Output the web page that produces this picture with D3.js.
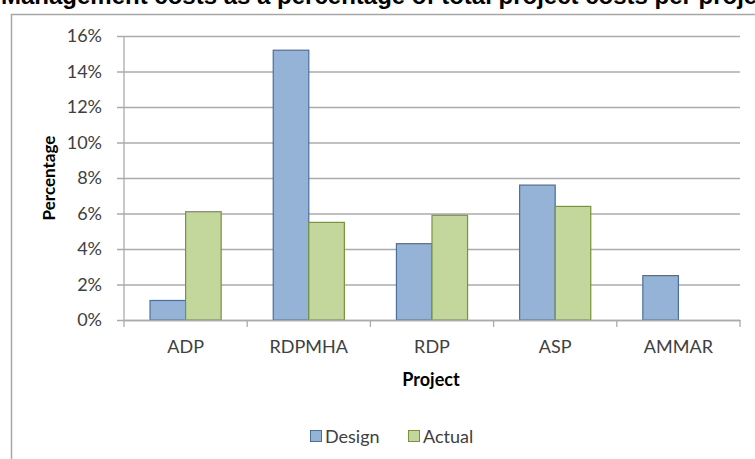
<!DOCTYPE html>
<html>
<head>
<meta charset="utf-8">
<script src="https://cdn.jsdelivr.net/npm/d3@7"></script>
<style>
  body { margin: 0; background: #fff; overflow: hidden; }
  svg { display: block; }
</style>
</head>
<body>
<svg id="chart" width="755" height="459"></svg>
<script>
// chart data
const projects = ["ADP", "RDPMHA", "RDP", "ASP", "AMMAR"];
const seriesNames = ["Design", "Actual"];
const designValues = [1.1, 15.2, 4.3, 7.6, 2.5];
const actualValues = [6.1, 5.5, 5.9, 6.4, null];
const yTicks = [0, 2, 4, 6, 8, 10, 12, 14, 16];

const fills = { Design: "#95b3d7", Actual: "#c3d69b" };
const strokes = { Design: "#4a6f9c", Actual: "#77933c" };

const svg = d3.select("#chart");
const font = "Lato, 'Open Sans', sans-serif";
const gridColor = "#ababab";

// title (clipped at the top in the original)
svg.append("text")
    .attr("x", 1)
    .attr("y", 4)
    .attr("font-family", "Arial, 'Liberation Sans', sans-serif")
    .attr("font-weight", "bold")
    .attr("font-size", 24)
    .attr("fill", "#000")
    .text("Management costs as a percentage of total project costs per project");

// chart frame
svg.append("rect")
    .attr("x", 11.5).attr("y", 14.5)
    .attr("width", 760).attr("height", 460)
    .attr("fill", "#fff")
    .attr("stroke", "#a6a6a6")
    .attr("stroke-width", 1.5);

const plotLeft = 124, plotRight = 740, plotTop = 36, plotBottom = 320;

const x = d3.scaleBand()
    .domain(projects)
    .range([plotLeft, plotRight])
    .paddingInner(0)
    .paddingOuter(0);

const xInner = d3.scaleBand()
    .domain(seriesNames)
    .range([0, x.bandwidth()])
    .paddingInner(0)
    .paddingOuter(0.732);

const y = d3.scaleLinear().domain([0, 16]).range([plotBottom, plotTop]);

// gridlines + y axis
const yAxis = svg.append("g")
    .attr("transform", `translate(${plotLeft},0)`)
    .call(d3.axisLeft(y).tickValues(yTicks).tickSize(-(plotRight - plotLeft)).tickPadding(22).tickFormat(d => d + "%"));
yAxis.select(".domain").remove();
yAxis.selectAll(".tick line")
    .attr("stroke", gridColor)
    .attr("stroke-width", 1.3)
    .attr("x1", -7);
yAxis.selectAll(".tick text")
    .attr("font-family", font)
    .attr("font-size", 18)
    .attr("fill", "#404040");

// vertical axis line
svg.append("line")
    .attr("x1", plotLeft).attr("x2", plotLeft)
    .attr("y1", plotTop).attr("y2", plotBottom)
    .attr("stroke", gridColor).attr("stroke-width", 1.3);

// bars
const rows = projects.map((p, i) => ({ project: p, Design: designValues[i], Actual: actualValues[i] }));
const groups = svg.append("g").selectAll("g")
    .data(rows)
    .join("g")
    .attr("transform", d => `translate(${x(d.project)},0)`);

groups.selectAll("rect")
    .data(d => seriesNames.filter(s => d[s] != null).map(s => ({ key: s, value: d[s] })))
    .join("rect")
    .attr("x", d => xInner(d.key))
    .attr("y", d => y(d.value))
    .attr("width", xInner.bandwidth())
    .attr("height", d => y(0) - y(d.value))
    .attr("fill", d => fills[d.key])
    .attr("stroke", d => strokes[d.key])
    .attr("stroke-width", 1.2);

// x axis
const xAxis = svg.append("g")
    .attr("transform", `translate(0,${plotBottom})`)
    .call(d3.axisBottom(x).tickSize(0));
xAxis.select(".domain")
    .attr("stroke", gridColor).attr("stroke-width", 1.3);
xAxis.selectAll(".tick text")
    .attr("y", 33)
    .attr("dy", null)
    .attr("font-family", font)
    .attr("font-size", 18)
    .attr("fill", "#404040");

// category separator ticks
svg.append("g").selectAll("line")
    .data(projects.concat(["end"]))
    .join("line")
    .attr("x1", (d, i) => plotLeft + i * x.step())
    .attr("x2", (d, i) => plotLeft + i * x.step())
    .attr("y1", plotBottom).attr("y2", plotBottom + 7)
    .attr("stroke", gridColor).attr("stroke-width", 1.3);

// axis titles
svg.append("text")
    .attr("x", 431)
    .attr("y", 386)
    .attr("text-anchor", "middle")
    .attr("font-family", font)
    .attr("font-weight", "bold")
    .attr("font-size", 18)
    .attr("fill", "#000")
    .text("Project");

svg.append("text")
    .attr("transform", "translate(55,178) rotate(-90)")
    .attr("text-anchor", "middle")
    .attr("font-family", font)
    .attr("font-weight", "bold")
    .attr("font-size", 17)
    .attr("fill", "#000")
    .text("Percentage");

// legend
const legend = svg.append("g").attr("transform", "translate(310,430)");
const legendX = [0, 98];
seriesNames.forEach((s, i) => {
    const g = legend.append("g").attr("transform", `translate(${legendX[i]},0)`);
    g.append("rect")
        .attr("width", 11).attr("height", 11).attr("y", 0.5).attr("x", 0.5)
        .attr("fill", fills[s]).attr("stroke", strokes[s]).attr("stroke-width", 1);
    g.append("text")
        .attr("x", 15).attr("y", 13)
        .attr("font-family", font)
        .attr("font-size", 18)
        .attr("fill", "#404040")
        .text(s);
});
</script>
</body>
</html>
